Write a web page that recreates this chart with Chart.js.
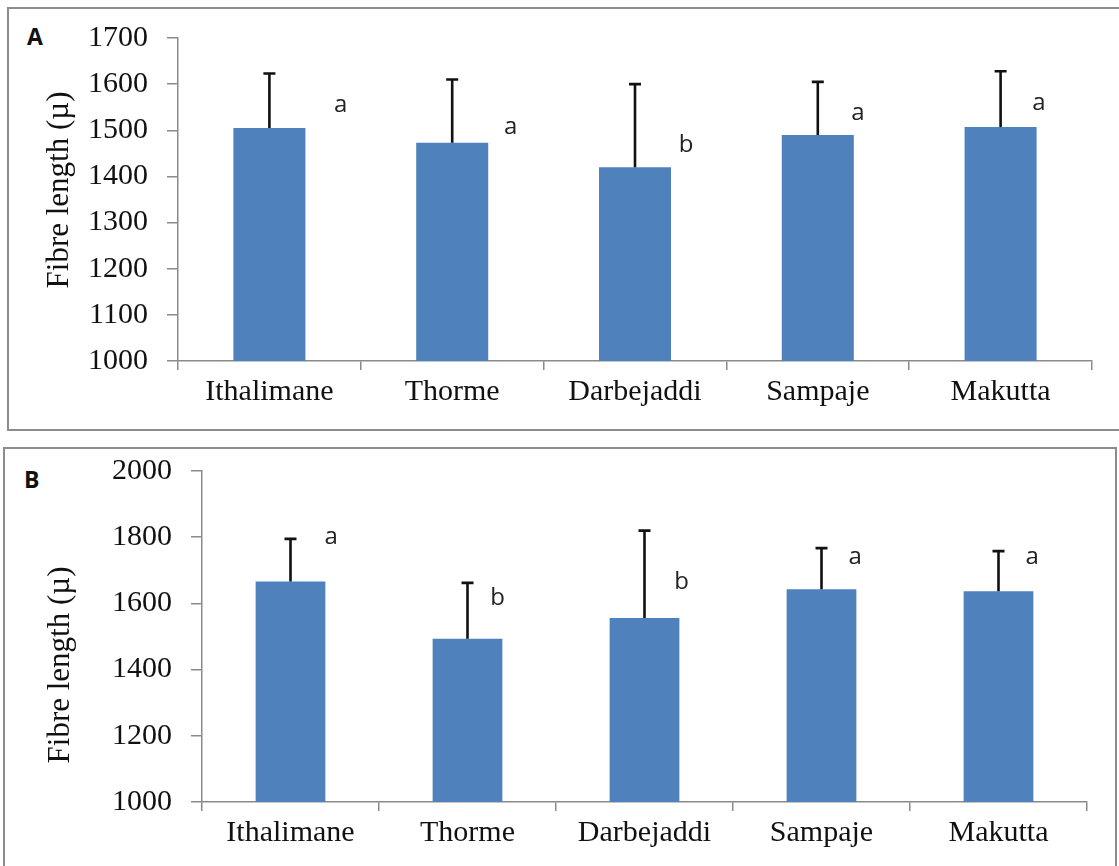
<!DOCTYPE html>
<html>
<head>
<meta charset="utf-8">
<script src="https://cdn.jsdelivr.net/npm/chart.js@4/dist/chart.umd.min.js"></script>
<style>
    html, body { margin: 0; padding: 0; background: #fff; overflow: hidden; width: 1119px; height: 866px; }
    .panel { position: absolute; border: 2px solid #8c8c8c; box-sizing: border-box; }
    .letter { position: absolute; font-family: "Open Sans", "Liberation Sans", sans-serif; font-weight: bold; font-size: 23px; color: #111; line-height: 1; }
    canvas { position: absolute; left: 0; }
</style>
</head>
<body>
<div class="panel" style="left:7px; top:7px; width:1130px; height:424px;"></div>
<div class="panel" style="left:3px; top:447px; width:1114px; height:440px;"></div>
<div class="letter" style="left:27px; top:25px;">A</div>
<div class="letter" style="left:24px; top:468px;">B</div>
<canvas id="chartA" width="1119" height="432" style="top:0px; width:1119px; height:432px;"></canvas>
<canvas id="chartB" width="1119" height="434" style="top:432px; width:1119px; height:434px;"></canvas>
<script>
var sites = ['Ithalimane', 'Thorme', 'Darbejaddi', 'Sampaje', 'Makutta'];

// panel A
var meanA = [1505, 1473, 1420, 1490, 1507];
var errA = [118, 137, 180, 115, 121];
var groupA = ['a', 'a', 'b', 'a', 'a'];
var groupYA = [1555, 1507, 1468, 1537, 1559];
var groupDxA = [0.39, 0.32, 0.28, 0.22, 0.21];

// panel B
var meanB = [1666, 1493, 1556, 1643, 1637];
var errB = [129, 169, 264, 124, 121];
var groupB = ['a', 'b', 'b', 'a', 'a'];
var groupYB = [1800, 1616, 1665, 1740, 1740];
var groupDxB = [0.23, 0.17, 0.21, 0.19, 0.19];

var axisGrey = '#8a8a8a';
var serif = '"Liberation Serif", "Times New Roman", serif';

// error bars (upper only) + significance letters
var extrasPlugin = {
    id: 'extras',
    afterDatasetsDraw: (chart, args, opts) => {
        var ctx = chart.ctx;
        var x = chart.scales.x;
        var y = chart.scales.y;
        var catW = (x.right - x.left) / sites.length;
        ctx.save();
        ctx.strokeStyle = '#111';
        ctx.lineWidth = 2.6;
        opts.mean.forEach((m, i) => {
            var cx = x.getPixelForValue(i);
            var y0 = y.getPixelForValue(m);
            var y1 = y.getPixelForValue(m + opts.err[i]);
            ctx.beginPath();
            ctx.moveTo(cx, y0);
            ctx.lineTo(cx, y1);
            ctx.moveTo(cx - 6, y1);
            ctx.lineTo(cx + 6, y1);
            ctx.stroke();
        });
        ctx.fillStyle = '#222';
        ctx.font = '24px "Open Sans", "Liberation Sans", sans-serif';
        ctx.textAlign = 'center';
        ctx.textBaseline = 'middle';
        opts.group.forEach((g, i) => {
            var gx = x.getPixelForValue(i) + opts.dx[i] * catW;
            var gy = y.getPixelForValue(opts.gy[i]);
            ctx.fillText(g, gx, gy);
        });
        // y axis title
        ctx.fillStyle = '#111';
        ctx.font = '31px ' + serif;
        ctx.translate(opts.titleX, opts.titleY);
        ctx.rotate(-Math.PI / 2);
        ctx.fillText('Fibre length (µ)', 0, 0);
        ctx.restore();
    }
};

window.setupChart = (id, means, yMax, yStep, pad, axisW, axisH, extras) => {
    var ctx = document.getElementById(id).getContext('2d');
    return new Chart(ctx, {
        type: 'bar',
        data: {
            labels: sites,
            datasets: [{
                data: means,
                backgroundColor: '#4f81bd',
                borderWidth: 0,
                categoryPercentage: 1,
                barPercentage: 0.394
            }]
        },
        options: {
            responsive: false,
            animation: false,
            layout: { padding: pad },
            plugins: {
                legend: { display: false },
                tooltip: { enabled: false },
                extras: extras
            },
            scales: {
                x: {
                    grid: { offset: true, drawOnChartArea: false, color: axisGrey, lineWidth: 1.5, tickLength: 9 },
                    border: { display: true, color: axisGrey, width: 1.5 },
                    ticks: { color: '#111', font: { family: serif, size: 30 }, padding: 4, maxRotation: 0 },
                    afterFit: (s) => { s.height = axisH; }
                },
                y: {
                    min: 1000,
                    max: yMax,
                    grid: { drawOnChartArea: false, color: axisGrey, lineWidth: 1.5, tickLength: 11 },
                    border: { display: true, color: axisGrey, width: 1.5 },
                    ticks: {
                        stepSize: yStep, color: '#111', font: { family: serif, size: 30 }, padding: 19,
                        callback: (v) => String(v)
                    },
                    afterFit: (s) => { s.width = axisW; }
                }
            }
        },
        plugins: [extrasPlugin]
    });
}

var chartA = window.setupChart('chartA', meanA, 1700, 100,
    { top: 38, right: 27, left: 0, bottom: 0 }, 178, 71,
    { mean: meanA, err: errA, group: groupA, gy: groupYA, dx: groupDxA, titleX: 60, titleY: 190 });

var chartB = window.setupChart('chartB', meanB, 2000, 200,
    { top: 39, right: 32, left: 0, bottom: 0 }, 202, 64,
    { mean: meanB, err: errB, group: groupB, gy: groupYB, dx: groupDxB, titleX: 61, titleY: 233 });
</script>
</body>
</html>
